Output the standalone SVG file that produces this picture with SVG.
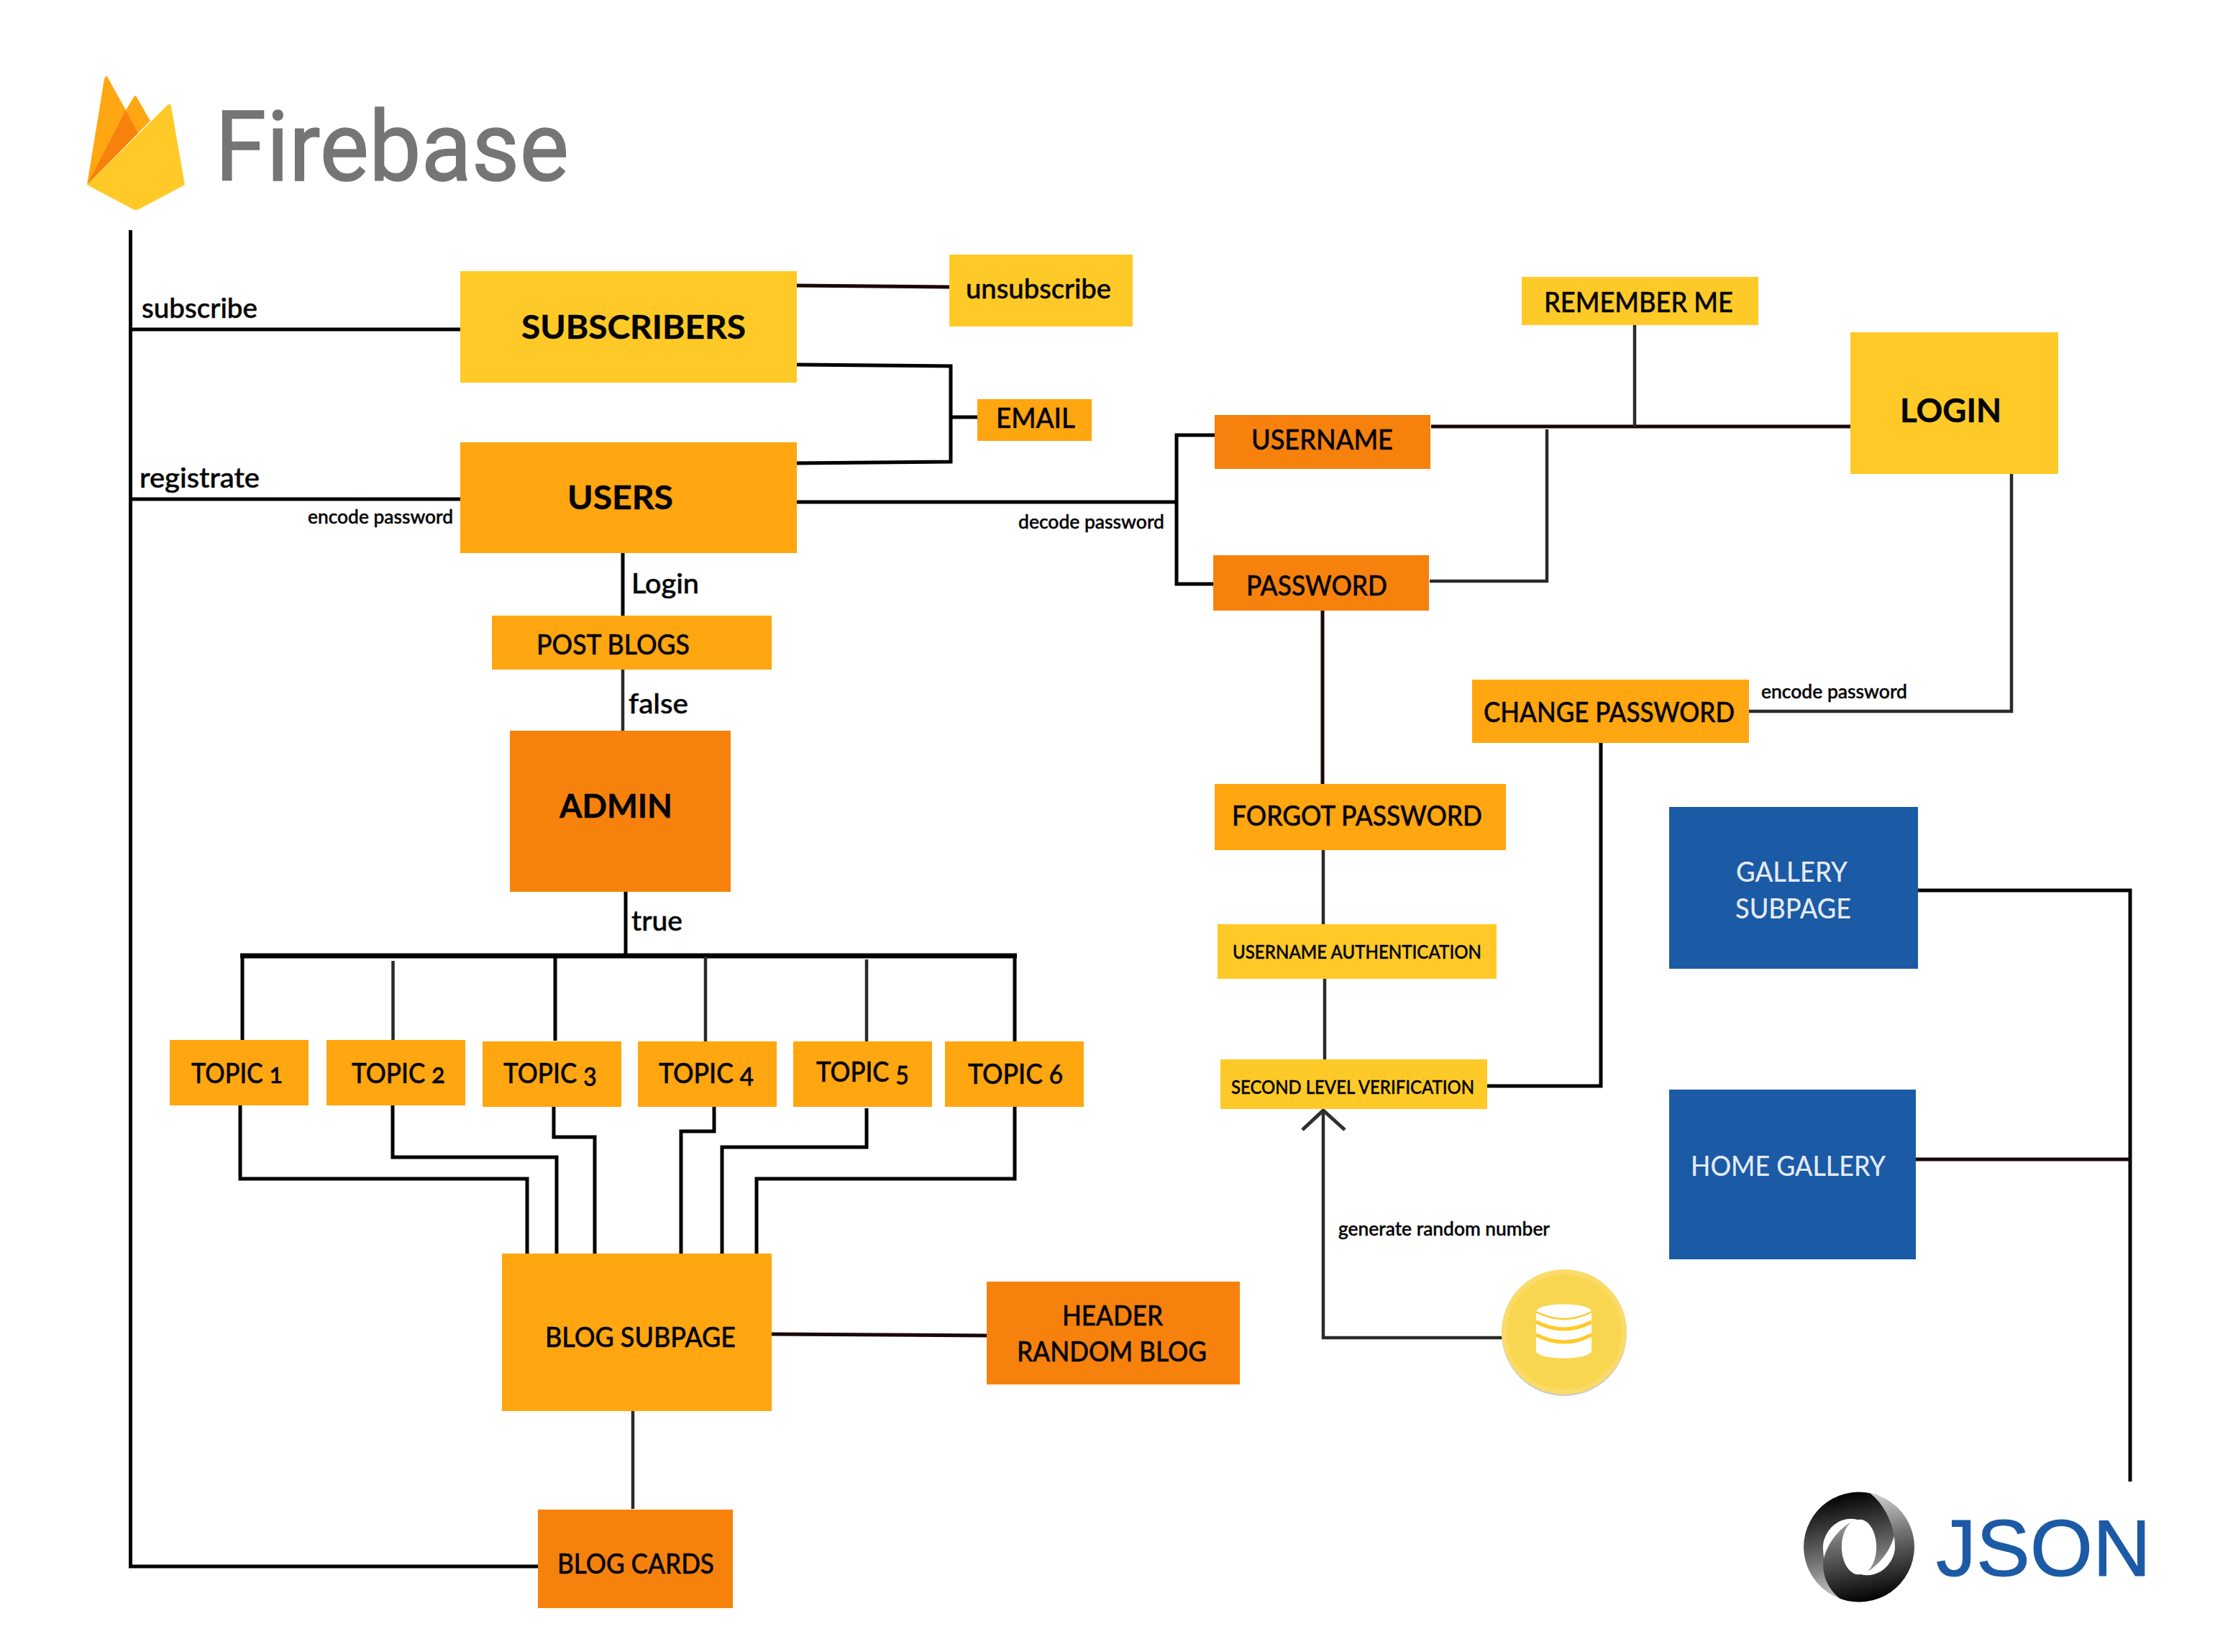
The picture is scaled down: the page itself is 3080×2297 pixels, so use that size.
<svg xmlns="http://www.w3.org/2000/svg" xmlns:xlink="http://www.w3.org/1999/xlink" width="3080" height="2297" viewBox="0 0 3080 2297">
<style>
text{font-family:"Lato","Open Sans","Liberation Sans",sans-serif;fill:#050505;stroke:#050505;stroke-width:.5;font-weight:500;font-variant-numeric:oldstyle-nums}
.xl{font-size:46px;font-weight:700}
.l{font-size:38px}
.s{font-size:26px}
text.w{fill:#e4eaf3;stroke:none}
.y{fill:#ffca28}.a{fill:#ffa611}.o{fill:#f6820d}.b{fill:#1b5aa5}
#connectors path{fill:none;stroke:#000;stroke-width:5;stroke-linejoin:miter}
#connectors .d{stroke:#2a2a2a;stroke-width:4.500}
#connectors .r{stroke:#1c0606;stroke-width:5}
#connectors .t{stroke-width:7}
#connectors .h{stroke:#2f2f2f;stroke-width:5}
</style>
<defs>
<linearGradient id="jg" gradientUnits="userSpaceOnUse" x1="-14" y1="-77" x2="14" y2="77">
<stop offset="0" stop-color="#000"/><stop offset=".55" stop-color="#6e6e6e"/><stop offset="1" stop-color="#e0e0e0"/>
</linearGradient>
<path id="jp" fill="url(#jg)" d="M-77,0A77,77 0 0 1 26,-72C42,-60 50,-42 50,-24C50,-5 30,28 4,38A23,38 0 0 0 -2,-38C-30,-45 -50,-20 -50,0C-50,30 -35,60 -15,75A77,77 0 0 1 -77,0Z"/>
</defs>
<rect width="3080" height="2297" fill="#fff"/>
<g id="connectors">
<path d="M181.500,320V2178H748"/>
<path d="M182,458H640"/>
<path d="M182,694H640"/>
<path class="r" d="M1108,397L1320,399"/>
<path d="M1108,507L1322,509V642L1108,644"/>
<path d="M1322,580H1359"/>
<path d="M1108,698H1636"/>
<path d="M1689,605H1636V812H1687"/>
<path d="M866,768V856"/>
<path class="d" d="M866,931V1016"/>
<path d="M870,1240V1329"/>
<path class="t" d="M334,1329H1414"/>
<path d="M337,1329V1446"/>
<path d="M1411,1329V1448"/>
<path class="d" d="M546.500,1336V1446"/>
<path d="M772,1329V1447"/>
<path class="d" d="M981,1330V1448"/>
<path class="d" d="M1205,1334V1448"/>
<path d="M334,1537V1639H733V1743"/>
<path d="M546,1537V1609H774V1743"/>
<path d="M770,1539V1581H827V1743"/>
<path d="M993,1539V1573H947V1743"/>
<path d="M1205,1541V1595H1004V1743"/>
<path d="M1411,1539V1639H1052V1743"/>
<path class="r" d="M1073,1855L1373,1857"/>
<path class="d" d="M880,1960V2098"/>
<path class="r" d="M1990,593H2573"/>
<path class="d" d="M2273,452V593"/>
<path class="d" d="M1988,808H2151V597"/>
<path class="r" d="M1839,849V1090"/>
<path class="d" d="M1840,1182V1285"/>
<path class="d" d="M1842,1361V1473"/>
<path d="M2068,1510H2226V1033"/>
<path class="d" d="M2797,658V989H2432"/>
<path class="d" d="M2089,1860H1840V1544"/>
<path class="h" d="M1811,1571L1840,1544L1870,1571"/>
<path d="M2667,1238H2962V2060"/>
<path class="r" d="M2664,1612H2960"/>
</g>
<g id="firebase-logo">
<path fill="#ffa712" d="M121,257L145,110Q148,102 151,110L175,153L192,185Z"/>
<path fill="#ffa712" d="M175,153L186,135Q188,131 190,135L209,168L192,185Z"/>
<path fill="#f6820d" d="M175,153L192,185L121,257Z"/>
<path fill="#ffca28" d="M121,257L232,147Q237,142 238,148L257,257L193,291Q189,293 185,291Z"/>
<text x="299" y="251" font-size="136" textLength="492" lengthAdjust="spacingAndGlyphs" style="font-family:Roboto,'Liberation Sans',sans-serif;fill:#757575;stroke:#757575;stroke-width:1.500;font-weight:400">Firebase</text>
</g>
<g id="json-logo">
<use xlink:href="#jp" href="#jp" transform="translate(2585,2151)"/>
<use xlink:href="#jp" href="#jp" transform="translate(2585,2151) rotate(180)"/>
<text x="2692" y="2191" font-size="112" textLength="299" lengthAdjust="spacingAndGlyphs" style="font-family:'Liberation Sans',Arial,sans-serif;fill:#1c5aa5;stroke:#1c5aa5;stroke-width:1;font-weight:400">JSON</text>
</g>
<g id="subscribers"><rect class="y" x="640" y="377" width="468" height="155"/><text class="xl" x="725" y="471" textLength="312" lengthAdjust="spacingAndGlyphs">SUBSCRIBERS</text></g>
<g id="unsubscribe"><rect class="y" x="1320" y="354" width="255" height="100"/><text class="l" x="1343" y="415" textLength="202" lengthAdjust="spacingAndGlyphs">unsubscribe</text></g>
<g id="email"><rect class="a" x="1359" y="555" width="159" height="58"/><text class="l" x="1385" y="595" textLength="110" lengthAdjust="spacingAndGlyphs">EMAIL</text></g>
<g id="users"><rect class="a" x="640" y="615" width="468" height="154"/><text class="xl" x="789" y="708" textLength="147" lengthAdjust="spacingAndGlyphs">USERS</text></g>
<g id="post-blogs"><rect class="a" x="684" y="856" width="389" height="75"/><text class="l" x="746" y="910" textLength="213" lengthAdjust="spacingAndGlyphs">POST BLOGS</text></g>
<g id="admin"><rect class="o" x="709" y="1016" width="307" height="224"/><text class="xl" x="778" y="1137" textLength="157" lengthAdjust="spacingAndGlyphs">ADMIN</text></g>
<g id="topic-1"><rect class="a" x="236" y="1446" width="193" height="91"/><text class="l" x="266" y="1506" textLength="127" lengthAdjust="spacingAndGlyphs">TOPIC 1</text></g>
<g id="topic-2"><rect class="a" x="454" y="1446" width="193" height="91"/><text class="l" x="489" y="1506" textLength="130" lengthAdjust="spacingAndGlyphs">TOPIC 2</text></g>
<g id="topic-3"><rect class="a" x="671" y="1448" width="193" height="91"/><text class="l" x="700" y="1506" textLength="130" lengthAdjust="spacingAndGlyphs">TOPIC 3</text></g>
<g id="topic-4"><rect class="a" x="887" y="1448" width="193" height="91"/><text class="l" x="916" y="1506" textLength="132" lengthAdjust="spacingAndGlyphs">TOPIC 4</text></g>
<g id="topic-5"><rect class="a" x="1103" y="1448" width="193" height="91"/><text class="l" x="1135" y="1504" textLength="129" lengthAdjust="spacingAndGlyphs">TOPIC 5</text></g>
<g id="topic-6"><rect class="a" x="1314" y="1448" width="193" height="91"/><text class="l" x="1346" y="1507" textLength="132" lengthAdjust="spacingAndGlyphs">TOPIC 6</text></g>
<g id="blog-subpage"><rect class="a" x="698" y="1743" width="375" height="219"/><text class="l" x="758" y="1873" textLength="265" lengthAdjust="spacingAndGlyphs">BLOG SUBPAGE</text></g>
<g id="header-random-blog"><rect class="o" x="1372" y="1782" width="352" height="143"/><text class="l" x="1477" y="1843" textLength="140" lengthAdjust="spacingAndGlyphs">HEADER</text><text class="l" x="1414" y="1893" textLength="264" lengthAdjust="spacingAndGlyphs">RANDOM BLOG</text></g>
<g id="blog-cards"><rect class="o" x="748" y="2099" width="271" height="137"/><text class="l" x="775" y="2188" textLength="218" lengthAdjust="spacingAndGlyphs">BLOG CARDS</text></g>
<g id="username"><rect class="o" x="1689" y="577" width="300" height="75"/><text class="l" x="1740" y="625" textLength="197" lengthAdjust="spacingAndGlyphs">USERNAME</text></g>
<g id="password"><rect class="o" x="1687" y="772" width="300" height="77"/><text class="l" x="1733" y="828" textLength="196" lengthAdjust="spacingAndGlyphs">PASSWORD</text></g>
<g id="login"><rect class="y" x="2573" y="462" width="289" height="197"/><text class="xl" x="2642" y="587" textLength="141" lengthAdjust="spacingAndGlyphs">LOGIN</text></g>
<g id="remember-me"><rect class="y" x="2116" y="385" width="329" height="67"/><text class="l" x="2147" y="434" textLength="263" lengthAdjust="spacingAndGlyphs">REMEMBER ME</text></g>
<g id="change-password"><rect class="a" x="2047" y="945" width="385" height="88"/><text class="l" x="2063" y="1004" textLength="349" lengthAdjust="spacingAndGlyphs">CHANGE PASSWORD</text></g>
<g id="forgot-password"><rect class="a" x="1689" y="1090" width="405" height="92"/><text class="l" x="1713" y="1148" textLength="348" lengthAdjust="spacingAndGlyphs">FORGOT PASSWORD</text></g>
<g id="username-authentication"><rect class="y" x="1693" y="1285" width="388" height="76"/><text class="s" x="1714" y="1333" textLength="346" lengthAdjust="spacingAndGlyphs">USERNAME AUTHENTICATION</text></g>
<g id="second-level-verification"><rect class="y" x="1697" y="1473" width="371" height="69"/><text class="s" x="1712" y="1521" textLength="338" lengthAdjust="spacingAndGlyphs">SECOND LEVEL VERIFICATION</text></g>
<g id="gallery-subpage"><rect class="b" x="2321" y="1122" width="346" height="225"/><text class="l w" x="2414" y="1226" textLength="155" lengthAdjust="spacingAndGlyphs">GALLERY</text><text class="l w" x="2413" y="1277" textLength="161" lengthAdjust="spacingAndGlyphs">SUBPAGE</text></g>
<g id="home-gallery"><rect class="b" x="2321" y="1515" width="343" height="236"/><text class="l w" x="2351" y="1635" textLength="271" lengthAdjust="spacingAndGlyphs">HOME GALLERY</text></g>
<g id="database">
<circle cx="2175" cy="1854" r="87" fill="#c9c9c9"/>
<circle cx="2175" cy="1852" r="87" fill="#fadb6a"/>
<circle cx="2175" cy="1852" r="80" fill="#f9d650"/>
<path fill="#fff" d="M2136,1824C2136,1810 2213,1810 2213,1824V1878C2213,1892 2136,1892 2136,1878Z"/>
<path fill="none" stroke="#ffca28" stroke-width="2.500" d="M2136,1824Q2175,1844 2213,1824"/>
<path fill="none" stroke="#ffca28" stroke-width="5" d="M2136,1838Q2175,1858 2213,1838M2136,1856Q2175,1876 2213,1856"/>
</g>
<g id="labels">
<text class="l" x="197" y="442" textLength="161" lengthAdjust="spacingAndGlyphs">subscribe</text>
<text class="l" x="194" y="678" textLength="167" lengthAdjust="spacingAndGlyphs">registrate</text>
<text class="s" x="428" y="728" textLength="202" lengthAdjust="spacingAndGlyphs">encode password</text>
<text class="l" x="878" y="825" textLength="94" lengthAdjust="spacingAndGlyphs">Login</text>
<text class="l" x="874" y="992" textLength="83" lengthAdjust="spacingAndGlyphs">false</text>
<text class="l" x="878" y="1294" textLength="71" lengthAdjust="spacingAndGlyphs">true</text>
<text class="s" x="1416" y="735" textLength="203" lengthAdjust="spacingAndGlyphs">decode password</text>
<text class="s" x="2449" y="971" textLength="203" lengthAdjust="spacingAndGlyphs">encode password</text>
<text class="s" x="1861" y="1718" textLength="294" lengthAdjust="spacingAndGlyphs">generate random number</text>
</g>
</svg>
